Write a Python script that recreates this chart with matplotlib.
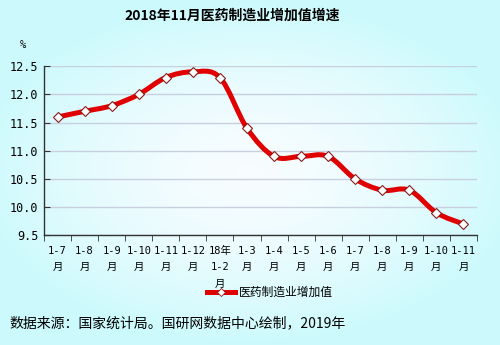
import numpy as np
import matplotlib.pyplot as plt
from matplotlib.path import Path
from matplotlib.patches import PathPatch
from matplotlib.lines import Line2D

plt.rcParams['font.family'] = ['Noto Sans CJK SC', 'DejaVu Sans']

months = ['1-7\n月', '1-8\n月', '1-9\n月', '1-10\n月', '1-11\n月', '1-12\n月',
          '18年\n1-2\n月', '1-3\n月', '1-4\n月', '1-5\n月', '1-6\n月', '1-7\n月',
          '1-8\n月', '1-9\n月', '1-10\n月', '1-11\n月']
growth = [11.6, 11.7, 11.8, 12.0, 12.3, 12.4, 12.3, 11.4, 10.9, 10.9, 10.9,
          10.5, 10.3, 10.3, 9.9, 9.7]
yticks = [9.5, 10.0, 10.5, 11.0, 11.5, 12.0, 12.5]

mono = ['DejaVu Sans Mono', 'Noto Sans CJK SC']

fig = plt.figure(figsize=(5, 3.45), dpi=100)

# soft cyan background, lighter toward the middle
bg = fig.add_axes([0, 0, 1, 1], zorder=-10)
gx, gy = np.meshgrid(np.linspace(-1, 1, 200), np.linspace(-1, 1, 140))
r = np.clip(np.sqrt((gx / 1.1) ** 2 + (gy / 1.0) ** 2), 0, 1)
c0 = np.array([0.97, 0.99, 1.0])
c1 = np.array([0.80, 0.98, 0.99])
img = c0 + (c1 - c0) * r[..., None] ** 1.6
bg.imshow(img, aspect='auto', extent=[0, 1, 0, 1])
bg.axis('off')

ax = fig.add_axes([0.088, 0.318, 0.866, 0.49])
ax.patch.set_alpha(0)
x = np.arange(len(growth))

# smooth curve through the points (Catmull-Rom as cubic Bezier segments)
pts = np.column_stack([x, growth]).astype(float)
verts = [pts[0]]
codes = [Path.MOVETO]
for i in range(len(pts) - 1):
    p0 = pts[i - 1] if i > 0 else pts[i]
    p1, p2 = pts[i], pts[i + 1]
    p3 = pts[i + 2] if i + 2 < len(pts) else pts[i + 1]
    verts += [p1 + (p2 - p0) / 6, p2 - (p3 - p1) / 6, p2]
    codes += [Path.CURVE4] * 3
ax.add_patch(PathPatch(Path(verts, codes), fill=False, edgecolor='#e00000',
                       lw=3.6, capstyle='round', joinstyle='round', zorder=3))
ax.plot(x, growth, ls='none', marker='D', ms=5.5, mfc='white', mec='#8b1a1a',
        mew=0.8, zorder=4)

ax.set_xlim(-0.5, len(growth) - 0.5)
ax.set_ylim(9.5, 12.5)
ax.set_yticks(yticks)
ax.set_yticklabels(['%.1f' % v for v in yticks], fontsize=8.5, family=mono)
ax.grid(axis='y', color='#c8d0e0', lw=1)
ax.set_axisbelow(True)
ax.set_xticks(x)
ax.set_xticklabels(months, fontsize=7.5, va='top', linespacing=1.75,
                   family=mono)
ax.set_xticks(np.arange(len(growth) + 1) - 0.5, minor=True)
ax.tick_params(axis='x', which='major', length=0, pad=8)
ax.tick_params(axis='x', which='minor', length=4, direction='out', color='#333333')
ax.tick_params(axis='y', length=4, direction='in', color='#333333', pad=4)
for s in ['top', 'right']:
    ax.spines[s].set_visible(False)
for s in ['left', 'bottom']:
    ax.spines[s].set_color('#333333')
    ax.spines[s].set_linewidth(1)

fig.text(0.464, 0.955, '2018年11月医药制造业增加值增速', ha='center', va='center',
         fontsize=10, fontweight='bold')
fig.text(0.045, 0.87, '%', ha='center', va='center', fontsize=7.5, family=mono)

legend_line = Line2D([], [], color='#e00000', lw=3.6, marker='D', ms=4,
                     mfc='white', mec='#8b1a1a', mew=0.6)
fig.legend([legend_line], ['医药制造业增加值'], loc='center',
           bbox_to_anchor=(0.54, 0.153), frameon=False, fontsize=8.5,
           handlelength=2.4, handletextpad=0.3)

fig.text(0.018, 0.062, '数据来源：国家统计局。国研网数据中心绘制，2019年',
         ha='left', va='center', fontsize=10)

fig.savefig('out.png', dpi=100)
